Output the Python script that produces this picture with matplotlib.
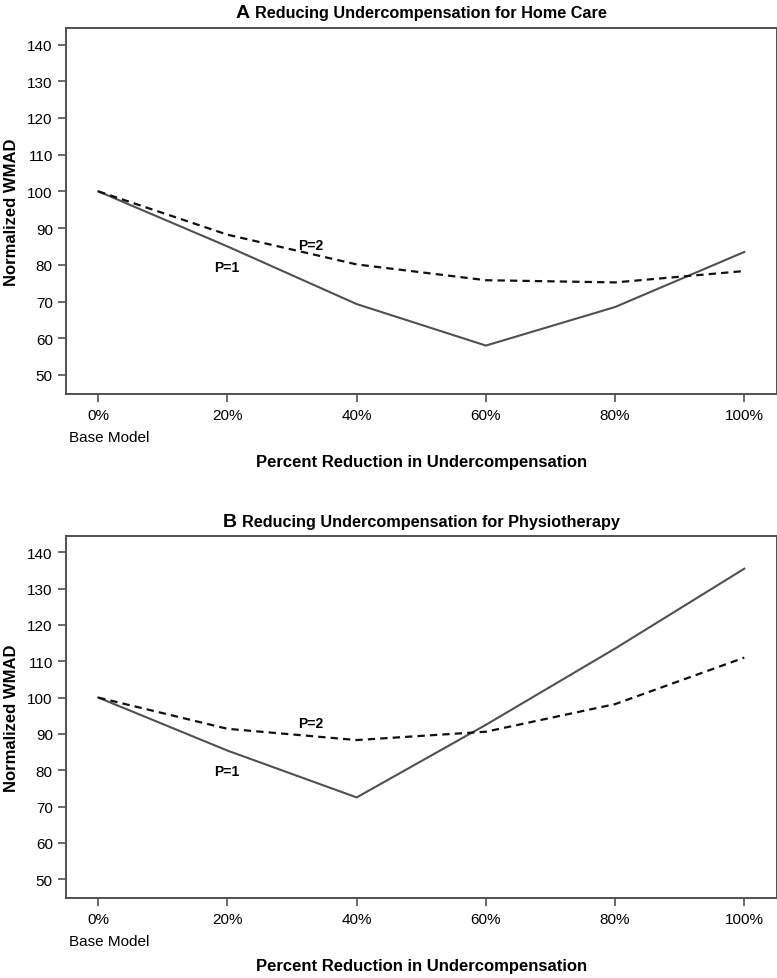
import matplotlib.pyplot as plt

plt.rcParams['font.family'] = ['Liberation Sans', 'DejaVu Sans']

# percent reduction in undercompensation
reduction = [0, 20, 40, 60, 80, 100]
tick_labels = ['0%', '20%', '40%', '60%', '80%', '100%']
y_ticks = [50, 60, 70, 80, 90, 100, 110, 120, 130, 140]

# A: home care
home_p1 = [100, 85.0, 69.3, 58.0, 68.5, 83.5]
home_p2 = [100, 88.2, 80.1, 75.8, 75.2, 78.3]

# B: physiotherapy
physio_p1 = [100, 85.4, 72.5, 92.5, 113.5, 135.5]
physio_p2 = [100, 91.4, 88.3, 90.6, 98.2, 111.0]

fig = plt.figure(figsize=(7.77, 9.79), dpi=100)
ax_a = fig.add_axes([0.0849, 0.5965, 0.9146, 0.3739])
ax_b = fig.add_axes([0.0849, 0.0817, 0.9146, 0.3698])

panels = [
    (ax_a, 'A', 'Reducing Undercompensation for Home Care', home_p1, home_p2,
     (19.9, 79.3), (32.9, 85.3)),
    (ax_b, 'B', 'Reducing Undercompensation for Physiotherapy', physio_p1, physio_p2,
     (19.9, 79.9), (32.9, 93.0)),
]

for ax, letter, title, p1, p2, pos1, pos2 in panels:
    ax.plot(reduction, p1, color='#505050', lw=1.5)
    ax.plot(reduction, p2, color='#111111', lw=1.6, ls=(0, (3.3, 2.3)))
    ax.text(*pos1, 'P=1', fontsize=10, fontweight='bold', ha='center', va='center')
    ax.text(*pos2, 'P=2', fontsize=10, fontweight='bold', ha='center', va='center')

    ax.set_xlim(-5, 105)
    ax.set_ylim(44.8, 144.5)
    ax.set_xticks(reduction)
    ax.set_xticklabels(tick_labels, fontsize=11)
    ax.set_yticks(y_ticks)
    ax.set_yticklabels([str(v) for v in y_ticks], fontsize=11)
    ax.tick_params(axis='both', direction='out', length=6, width=1.2,
                   color='#505050')
    ax.tick_params(axis='x', pad=4)
    for s in ax.spines.values():
        s.set_color('#505050')
        s.set_linewidth(1.4)

    ax.set_ylabel('Normalized WMAD', fontsize=12, fontweight='bold', labelpad=6)
    ax.set_xlabel('Percent Reduction in Undercompensation', fontsize=12,
                  fontweight='bold', labelpad=23)
    ax.annotate('Base Model', xy=(0.004, 0), xycoords='axes fraction',
                xytext=(0, -31), textcoords='offset points', fontsize=11,
                ha='left', va='center')

    # letter and title as two pieces so the letter can be larger
    ax.text(0.5, 1.041, letter + ' ', transform=ax.transAxes, fontsize=14,
            fontweight='bold', ha='right', va='center')
    ax.text(0.5, 1.041, title, transform=ax.transAxes, fontsize=11.7,
            fontweight='bold', ha='left', va='center')

# centre each letter + title pair over the plot
fig.canvas.draw()
r = fig.canvas.get_renderer()
for ax in (ax_a, ax_b):
    texts = ax.texts[-2:]
    w = sum(tx.get_window_extent(r).width for tx in texts)
    ax_w = ax.get_window_extent(r).width
    shift = (w / 2 - texts[1].get_window_extent(r).width) / ax_w
    for tx in texts:
        x, y = tx.get_position()
        tx.set_position((x + shift, y))

fig.savefig('out.png', dpi=100)
